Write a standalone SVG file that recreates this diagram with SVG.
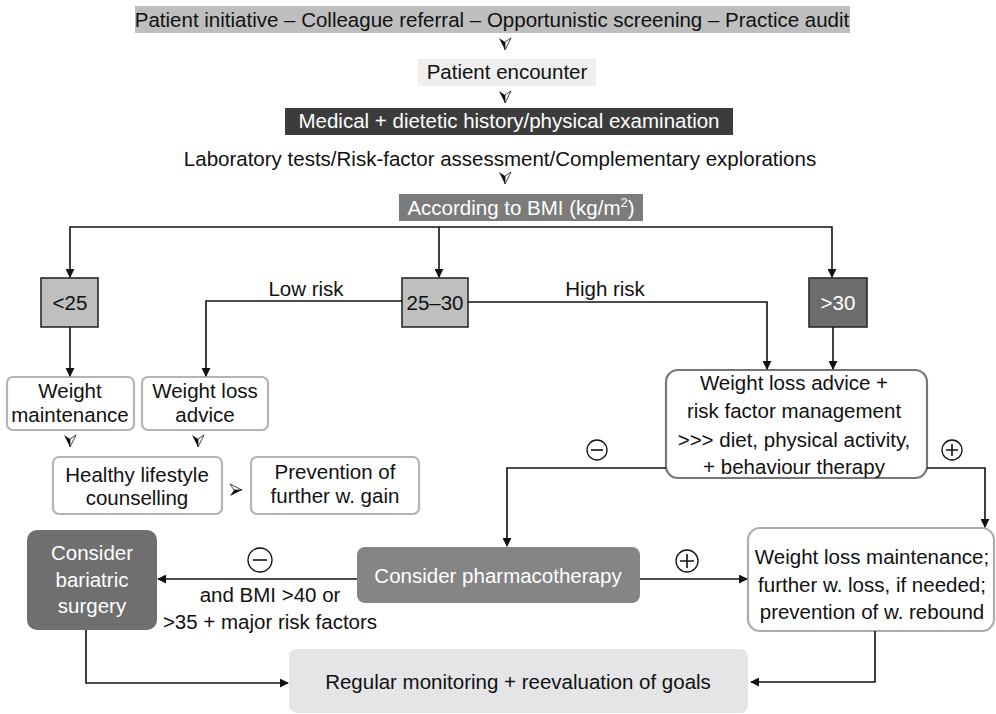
<svg xmlns="http://www.w3.org/2000/svg" width="996" height="714" viewBox="0 0 996 714">
  <style>
    text { font-family: "Liberation Sans", Arial, sans-serif; font-size: 20.5px; fill: #111; text-anchor: middle; }
    .w { fill: #fff; }
    .line { fill: none; stroke: #111; stroke-width: 1.6; }
    .arr { marker-end: url(#tip); }
    .soft { fill: #fff; stroke: #b4b4b6; stroke-width: 2.2; }
    .bmi { stroke: #2a2a2a; stroke-width: 1.6; }
    .sign { fill: #fff; stroke: #111; stroke-width: 1.3; }
  </style>
  <defs>
    <marker id="tip" viewBox="0 0 10 10" refX="9" refY="5" markerWidth="9" markerHeight="9" markerUnits="userSpaceOnUse" orient="auto">
      <path d="M0,0 L10,5 L0,10 Z" fill="#111"/>
    </marker>
    <!-- notched downward arrowhead: dark left half, outlined right half -->
    <g id="notch">
      <path d="M-6,-6 L0,6 L0,-2 Z" fill="#111"/>
      <path d="M0,-2 L0,6 L6,-6 Z" fill="#fff" stroke="#111" stroke-width="0.8" stroke-linejoin="round"/>
    </g>
  </defs>

  <!-- referral sources -->
  <g id="sources">
    <rect x="135" y="6" width="715" height="27" fill="#bebebf"/>
    <text x="492" y="27">Patient initiative – Colleague referral – Opportunistic screening – Practice audit</text>
  </g>
  <use href="#notch" x="505" y="44"/>

  <g id="encounter">
    <rect x="418" y="59" width="178" height="27" fill="#efefef"/>
    <text x="507" y="79">Patient encounter</text>
  </g>
  <use href="#notch" x="505" y="97"/>

  <g id="history">
    <rect x="285" y="108" width="448" height="27" fill="#3c3c3c"/>
    <text class="w" x="509" y="128">Medical + dietetic history/physical examination</text>
  </g>

  <g id="tests">
    <text x="500" y="166">Laboratory tests/Risk-factor assessment/Complementary explorations</text>
  </g>
  <use href="#notch" x="505" y="178"/>

  <g id="bmi">
    <rect x="399" y="194" width="244" height="27" fill="#7b7b7b"/>
    <text class="w" x="521" y="215">According to BMI (kg/m<tspan font-size="13" dy="-8">2</tspan><tspan dy="8">)</tspan></text>
  </g>

  <g id="bmi-low">
    <rect class="bmi" x="41" y="278" width="57" height="49" fill="#bfbfc0"/>
    <text x="70" y="310">&lt;25</text>
  </g>
  <g id="bmi-mid">
    <rect class="bmi" x="402" y="278" width="66" height="49" fill="#bfbfc0"/>
    <text x="435" y="310">25–30</text>
  </g>
  <g id="bmi-high">
    <rect class="bmi" x="809" y="278" width="58" height="49" fill="#6d6d6d"/>
    <text class="w" x="838" y="310">&gt;30</text>
  </g>

  <g id="maintenance">
    <rect class="soft" x="7" y="377" width="127" height="53" rx="6"/>
    <text x="70" y="398">Weight</text>
    <text x="70" y="422">maintenance</text>
  </g>
  <g id="loss-advice">
    <rect class="soft" x="142" y="377" width="126" height="53" rx="6"/>
    <text x="205" y="398">Weight loss</text>
    <text x="205" y="422">advice</text>
  </g>
  <use href="#notch" x="70" y="441"/>
  <use href="#notch" x="198" y="441"/>

  <g id="lifestyle">
    <rect class="soft" x="53" y="457" width="169" height="57" rx="6"/>
    <text x="137" y="482">Healthy lifestyle</text>
    <text x="137" y="505">counselling</text>
  </g>
  <use href="#notch" transform="translate(236,490) rotate(-90)"/>
  <g id="prevention">
    <rect class="soft" x="251" y="457" width="168" height="57" rx="6"/>
    <text x="335" y="479">Prevention of</text>
    <text x="335" y="503">further w. gain</text>
  </g>

  <g id="risk-management">
    <rect x="666" y="370" width="261" height="108" rx="12" fill="#fff" stroke="#767676" stroke-width="2.2"/>
    <text x="794" y="390">Weight loss advice +</text>
    <text x="794" y="418">risk factor management</text>
    <text x="794" y="447">&gt;&gt;&gt; diet, physical activity,</text>
    <text x="794" y="474">+  behaviour therapy</text>
  </g>

  <g id="bariatric">
    <rect x="27" y="530" width="130" height="100" rx="10" fill="#6f6f6f"/>
    <text class="w" x="92" y="560">Consider</text>
    <text class="w" x="92" y="587">bariatric</text>
    <text class="w" x="92" y="613">surgery</text>
  </g>

  <g id="pharmacotherapy">
    <rect x="357" y="547" width="283" height="56" rx="8" fill="#858585"/>
    <text class="w" x="498" y="583">Consider pharmacotherapy</text>
  </g>

  <g id="loss-maintenance">
    <rect x="748" y="528" width="246" height="103" rx="12" fill="#fff" stroke="#acacae" stroke-width="2.2"/>
    <text x="872" y="564">Weight loss maintenance;</text>
    <text x="872" y="592">further w. loss, if needed;</text>
    <text x="872" y="619">prevention of w. rebound</text>
  </g>

  <g id="monitoring">
    <rect x="289" y="649" width="459" height="64" rx="8" fill="#e5e5e7"/>
    <text x="518" y="689">Regular monitoring + reevaluation of goals</text>
  </g>

  <!-- connectors -->
  <g id="connectors">
    <path class="line arr" d="M439,227 H70 V277"/>
    <path class="line arr" d="M439,227 H832 V277"/>
    <path class="line arr" d="M439,227 V277"/>
    <path class="line arr" d="M70,327 V376"/>
    <path class="line arr" d="M402,301 H206 V376"/>
    <path class="line arr" d="M468,302 H767 V369"/>
    <path class="line arr" d="M833,327 V369"/>
    <path class="line arr" d="M666,468 H507 V546"/>
    <path class="line arr" d="M927,468 H985 V527"/>
    <path class="line arr" d="M357,579 H158"/>
    <path class="line arr" d="M640,579 H747"/>
    <path class="line arr" d="M86,630 V683 H288"/>
    <path class="line arr" d="M875,631 V682 H751"/>
    <text x="306" y="296">Low risk</text>
    <text x="605" y="296">High risk</text>
    <text x="270" y="602">and BMI &gt;40 or</text>
    <text x="270" y="629">&gt;35 + major risk factors</text>
    <!-- outcome signs -->
    <circle class="sign" cx="597" cy="450" r="10"/>
    <path class="line" d="M591,450 H603"/>
    <circle class="sign" cx="952" cy="450" r="10"/>
    <path class="line" d="M946,450 H958 M952,444 V456"/>
    <circle class="sign" cx="260" cy="560" r="12"/>
    <path class="line" d="M253,560 H267"/>
    <circle class="sign" cx="687" cy="561" r="11"/>
    <path class="line" d="M680,561 H694 M687,554 V568"/>
  </g>
</svg>
